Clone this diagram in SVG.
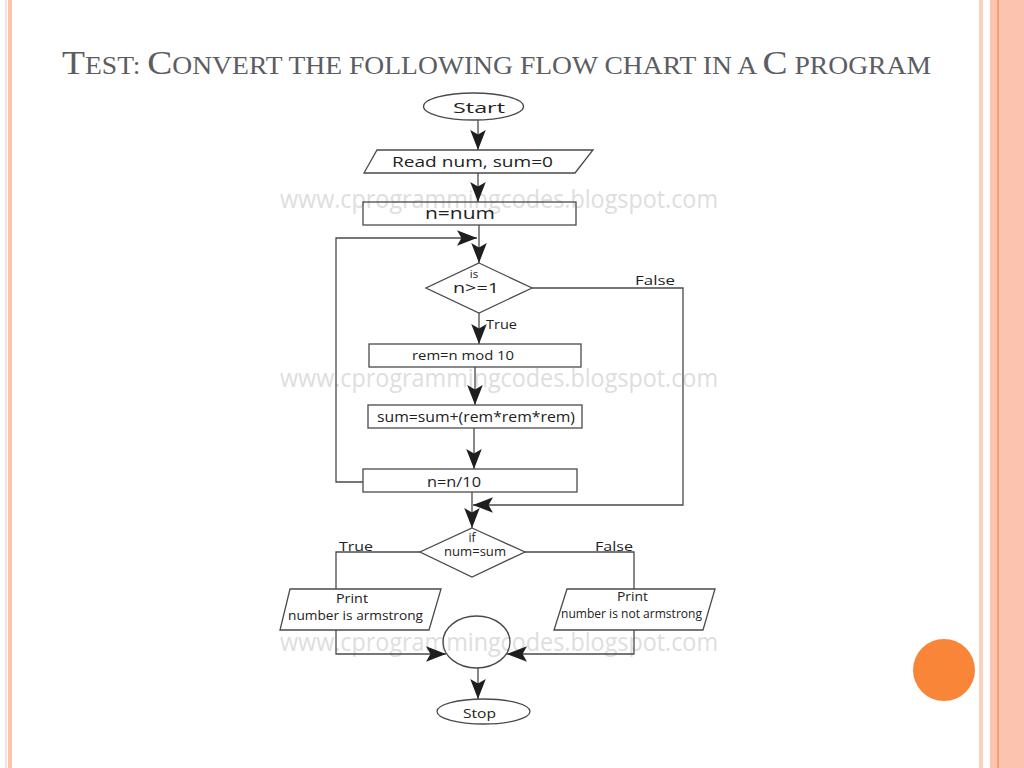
<svg xmlns="http://www.w3.org/2000/svg" width="1024" height="768" viewBox="0 0 1024 768">
<style>
.bx{fill:none;stroke:#4a4a4a;stroke-width:1.3}
.ln{fill:none;stroke:#4a4a4a;stroke-width:1.3}
.arr{marker-end:url(#ah)}
.t{font-family:"Open Sans","Noto Sans","DejaVu Sans",sans-serif;fill:#222}
.m{text-anchor:middle}
.wm{font-family:"Open Sans","Noto Sans",sans-serif;font-size:26px;fill:#dedede}
.title{font-family:"Liberation Serif","DejaVu Serif",serif;fill:#5c5d63}
</style>
<defs>
<marker id="ah" markerUnits="userSpaceOnUse" markerWidth="20" markerHeight="16" viewBox="0 0 18 14" refX="18" refY="7" orient="auto">
<path d="M0,0 L18,7 L0,14 L4,7 Z" fill="#1e1e1e"/>
</marker>
</defs>
<rect width="1024" height="768" fill="#ffffff"/>
<g id="borders">
<rect x="5" y="0" width="2" height="768" fill="#f8e3d8"/>
<rect x="8" y="0" width="4" height="768" fill="#fcc2ac"/>
<rect x="979" y="0" width="4" height="768" fill="#fcd0bf"/>
<rect x="990" y="0" width="34" height="768" fill="#fcc4af"/>
<rect x="997" y="0" width="2" height="768" fill="#f4a070"/>
</g>
<circle id="orange-dot" cx="944" cy="670" r="31" fill="#f98539"/>
<text class="title" x="62" y="74" textLength="869" lengthAdjust="spacingAndGlyphs"><tspan font-size="34">T</tspan><tspan font-size="25">EST: </tspan><tspan font-size="34">C</tspan><tspan font-size="25">ONVERT THE FOLLOWING FLOW CHART IN A </tspan><tspan font-size="34">C</tspan><tspan font-size="25"> PROGRAM</tspan></text>
<g id="watermarks">
<text class="wm" x="280" y="208" textLength="438" lengthAdjust="spacingAndGlyphs">www.cprogrammingcodes.blogspot.com</text>
<text class="wm" x="280" y="387" textLength="438" lengthAdjust="spacingAndGlyphs">www.cprogrammingcodes.blogspot.com</text>
<text class="wm" x="280" y="651" textLength="438" lengthAdjust="spacingAndGlyphs">www.cprogrammingcodes.blogspot.com</text>
</g>
<g id="connectors">
<path class="ln arr" d="M478,120 V150"/>
<path class="ln arr" d="M478,173 V202"/>
<path class="ln arr" d="M479,225 V263"/>
<path class="ln arr" d="M363,482 H336 V238 H477"/>
<path class="ln arr" d="M479,313 V344"/>
<path class="ln arr" d="M532,288 H683 V505 H473"/>
<path class="ln arr" d="M475,367 V405"/>
<path class="ln arr" d="M474,428 V469"/>
<path class="ln arr" d="M472,492 V528"/>
<path class="ln" d="M420,552 H336 V589"/>
<path class="ln" d="M525,552 H634 V589"/>
<path class="ln arr" d="M336,630 V654 H446"/>
<path class="ln arr" d="M634,630 V654 H507"/>
<path class="ln arr" d="M478,668 V699"/>
<text class="t" x="635" y="285" font-size="13" textLength="40" lengthAdjust="spacingAndGlyphs">False</text>
<text class="t" x="486" y="329" font-size="13" textLength="31" lengthAdjust="spacingAndGlyphs">True</text>
<text class="t" x="339" y="551" font-size="13" textLength="34" lengthAdjust="spacingAndGlyphs">True</text>
<text class="t" x="595" y="551" font-size="13" textLength="38" lengthAdjust="spacingAndGlyphs">False</text>
</g>
<g id="start">
<ellipse class="bx" cx="473.5" cy="106.5" rx="50" ry="13.5"/>
<text class="t m" x="479" y="113" font-size="15" textLength="52" lengthAdjust="spacingAndGlyphs">Start</text>
</g>
<g id="read">
<polygon class="bx" points="377,150 593,150 575,173 364,173"/>
<text class="t m" x="472.5" y="167" font-size="14.5" textLength="161" lengthAdjust="spacingAndGlyphs">Read num, sum=0</text>
</g>
<g id="n-num">
<rect class="bx" x="363" y="202" width="213" height="23"/>
<text class="t m" x="460" y="219" font-size="16" textLength="70" lengthAdjust="spacingAndGlyphs">n=num</text>
</g>
<g id="cond1">
<polygon class="bx" points="479,263 532,288 479,313 426,288"/>
<text class="t m" x="474" y="278" font-size="11.5">is</text>
<text class="t m" x="476" y="293" font-size="15" textLength="46" lengthAdjust="spacingAndGlyphs">n&gt;=1</text>
</g>
<g id="rem">
<rect class="bx" x="369" y="344" width="212" height="23"/>
<text class="t m" x="463" y="360" font-size="13.5" textLength="102" lengthAdjust="spacingAndGlyphs">rem=n mod 10</text>
</g>
<g id="sum">
<rect class="bx" x="368" y="405" width="214" height="23"/>
<text class="t m" x="476" y="422" font-size="14" textLength="198" lengthAdjust="spacingAndGlyphs">sum=sum+(rem*rem*rem)</text>
</g>
<g id="n-div">
<rect class="bx" x="363" y="469" width="214" height="23"/>
<text class="t m" x="454" y="487" font-size="14" textLength="54" lengthAdjust="spacingAndGlyphs">n=n/10</text>
</g>
<g id="cond2">
<polygon class="bx" points="472,528 525,552 472,577 420,552"/>
<text class="t m" x="472" y="542" font-size="12">if</text>
<text class="t m" x="475" y="556" font-size="13" textLength="62" lengthAdjust="spacingAndGlyphs">num=sum</text>
</g>
<g id="print-yes">
<polygon class="bx" points="290,589 441,589 429,630 280,630"/>
<text class="t m" x="352" y="603" font-size="13.5" textLength="32" lengthAdjust="spacingAndGlyphs">Print</text>
<text class="t m" x="355.5" y="620" font-size="13" textLength="135" lengthAdjust="spacingAndGlyphs">number is armstrong</text>
</g>
<g id="print-no">
<polygon class="bx" points="567,589 715,589 703,630 554,630"/>
<text class="t m" x="632.5" y="601" font-size="13.5" textLength="31" lengthAdjust="spacingAndGlyphs">Print</text>
<text class="t m" x="631.5" y="618" font-size="12.5" textLength="141" lengthAdjust="spacingAndGlyphs">number is not armstrong</text>
</g>
<g id="joint">
<ellipse class="bx" cx="476.5" cy="642" rx="33.5" ry="26"/>
</g>
<g id="stop">
<ellipse class="bx" cx="483.5" cy="711.5" rx="46.5" ry="12.5"/>
<text class="t m" x="479.5" y="718" font-size="12.5" textLength="33" lengthAdjust="spacingAndGlyphs">Stop</text>
</g>
</svg>
